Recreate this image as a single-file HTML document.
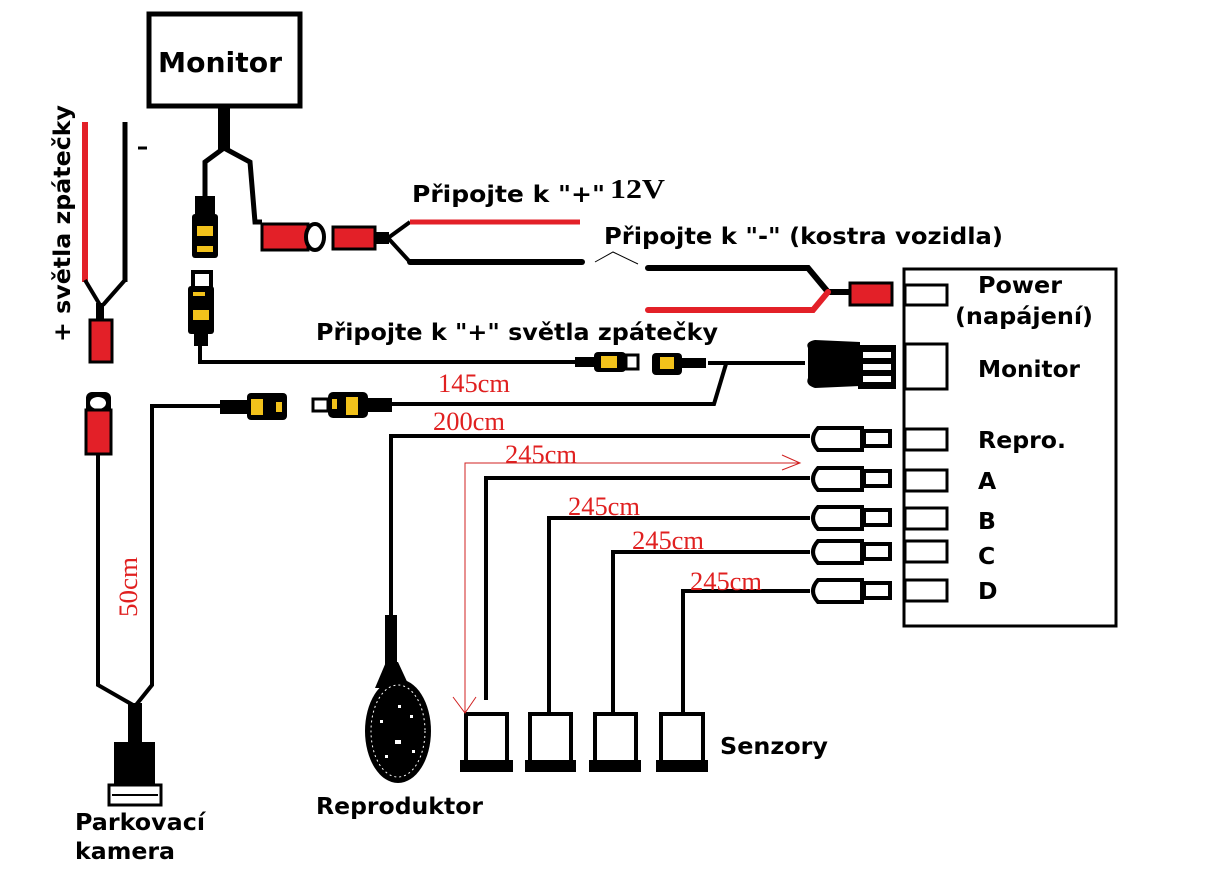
<!DOCTYPE html>
<html><head><meta charset="utf-8"><style>
html,body{margin:0;padding:0;background:#fff;width:1220px;height:884px;overflow:hidden}
svg{display:block}
.b{font-family:"DejaVu Sans","Liberation Sans",sans-serif;font-weight:bold;fill:#000}
.r{font-family:"Liberation Serif",serif;fill:#e02020}
</style></head><body>
<svg width="1220" height="884" viewBox="0 0 1220 884" xmlns="http://www.w3.org/2000/svg">
<rect x="149" y="14" width="151" height="92" fill="none" stroke="#000" stroke-width="5"/>
<text x="158" y="72" class="b" font-size="28" textLength="124" lengthAdjust="spacingAndGlyphs">Monitor</text>
<rect x="218" y="108" width="12" height="42" fill="#000"/>
<polyline points="224,148 205,162 205,198" fill="none" stroke="#000" stroke-width="5"/>
<polyline points="224,148 250,162 255,222 262,222" fill="none" stroke="#000" stroke-width="5"/>
<rect x="262" y="224" width="46" height="26" fill="#e32028" stroke="#000" stroke-width="3"/>
<ellipse cx="315" cy="237" rx="9" ry="13" fill="#fff" stroke="#000" stroke-width="4"/>
<rect x="333" y="227" width="42" height="22" fill="#e32028" stroke="#000" stroke-width="3"/>
<rect x="375" y="232" width="14" height="12" fill="#000"/>
<polyline points="388,238 410,222" stroke="#000" stroke-width="4" fill="none"/>
<polyline points="388,238 410,262" stroke="#000" stroke-width="4" fill="none"/>
<line x1="410" y1="222" x2="580" y2="222" stroke="#e32028" stroke-width="5"/>
<line x1="410" y1="262" x2="582" y2="262" stroke="#000" stroke-width="6" stroke-linecap="round"/>
<text x="412" y="202" class="b" font-size="23" textLength="193" lengthAdjust="spacingAndGlyphs">Připojte k "+"</text>
<text x="610" y="198" font-family="Liberation Serif,serif" font-weight="bold" font-size="27" textLength="55" lengthAdjust="spacingAndGlyphs">12V</text>
<text x="604" y="244" class="b" font-size="23" textLength="399" lengthAdjust="spacingAndGlyphs">Připojte k "-" (kostra vozidla)</text>
<polyline points="595,262 613,252 638,264" fill="none" stroke="#000" stroke-width="1"/>
<polyline points="648,268 808,268 828,292 850,292" fill="none" stroke="#000" stroke-width="6" stroke-linecap="round"/>
<polyline points="648,310 813,310 828,292" fill="none" stroke="#e32028" stroke-width="6" stroke-linecap="round"/>
<rect x="850" y="283" width="42" height="22" fill="#e32028" stroke="#000" stroke-width="3"/>
<rect x="195" y="196" width="20" height="20" fill="#000"/>
<rect x="192" y="214" width="26" height="44" rx="3" fill="#000"/>
<rect x="197" y="226" width="16" height="10" fill="#f2c21b"/>
<rect x="197" y="246" width="16" height="6" fill="#f2c21b"/>
<rect x="193" y="272" width="18" height="16" fill="#fff" stroke="#000" stroke-width="4"/>
<rect x="188" y="286" width="26" height="48" rx="3" fill="#000"/>
<rect x="193" y="310" width="16" height="10" fill="#f2c21b"/>
<rect x="193" y="292" width="12" height="4" fill="#f2c21b"/>
<rect x="194" y="332" width="14" height="14" fill="#000"/>
<polyline points="200,346 200,362 575,362" fill="none" stroke="#000" stroke-width="4"/>
<text x="316" y="340" class="b" font-size="23.5" textLength="402" lengthAdjust="spacingAndGlyphs">Připojte k "+" světla zpátečky</text>
<rect x="575" y="357" width="20" height="10" fill="#000"/>
<rect x="594" y="352" width="32" height="20" rx="4" fill="#000"/>
<rect x="601" y="356" width="16" height="12" fill="#f2c21b"/>
<rect x="626" y="355" width="12" height="14" fill="#fff" stroke="#000" stroke-width="3"/>
<rect x="652" y="353" width="30" height="22" rx="4" fill="#000"/>
<rect x="660" y="357" width="14" height="12" fill="#f2c21b"/>
<rect x="682" y="358" width="24" height="10" fill="#000"/>
<polyline points="708,363 725,363 805,363" fill="none" stroke="#000" stroke-width="4"/>
<polyline points="726,364 714,404 392,404" fill="none" stroke="#000" stroke-width="4"/>
<path d="M808,348 Q805,342 815,340 L860,342 L860,386 L815,388 Q805,385 808,378 Z" fill="#000"/>
<rect x="858" y="345" width="38" height="44" fill="#000"/>
<rect x="863" y="352" width="28" height="6" fill="#fff"/>
<rect x="863" y="364" width="28" height="6" fill="#fff"/>
<rect x="863" y="376" width="28" height="6" fill="#fff"/>
<rect x="352" y="398" width="40" height="14" fill="#000"/>
<rect x="328" y="392" width="40" height="26" rx="5" fill="#000"/>
<rect x="332" y="399" width="5" height="10" fill="#f2c21b"/>
<rect x="346" y="397" width="12" height="18" fill="#f2c21b"/>
<rect x="313" y="399" width="15" height="12" fill="#fff" stroke="#000" stroke-width="3"/>
<rect x="220" y="400" width="30" height="14" fill="#000"/>
<rect x="247" y="393" width="40" height="27" rx="4" fill="#000"/>
<rect x="251" y="399" width="12" height="16" fill="#f2c21b"/>
<rect x="276" y="402" width="6" height="10" fill="#f2c21b"/>
<polyline points="222,406 152,406 152,685 136,705" fill="none" stroke="#000" stroke-width="4"/>
<line x1="85" y1="122" x2="85" y2="282" stroke="#e32028" stroke-width="6"/>
<line x1="125" y1="122" x2="125" y2="282" stroke="#000" stroke-width="5"/>
<polyline points="85,280 100,305" stroke="#000" stroke-width="4" fill="none"/>
<polyline points="125,280 103,305" stroke="#000" stroke-width="4" fill="none"/>
<rect x="96" y="303" width="8" height="18" fill="#000"/>
<rect x="90" y="320" width="22" height="42" fill="#e32028" stroke="#000" stroke-width="3"/>
<line x1="138" y1="148" x2="147" y2="148" stroke="#000" stroke-width="3"/>
<text transform="translate(70,342) rotate(-90)" class="b" font-size="23.5" textLength="237" lengthAdjust="spacingAndGlyphs">+ světla zpátečky</text>
<rect x="86" y="392" width="25" height="30" rx="6" fill="#000"/>
<ellipse cx="98" cy="403" rx="8" ry="6" fill="#fff"/>
<rect x="86" y="410" width="25" height="44" fill="#e32028" stroke="#000" stroke-width="3"/>
<polyline points="98,455 98,685 133,705" fill="none" stroke="#000" stroke-width="4"/>
<text transform="translate(137,617) rotate(-90)" class="r" font-size="26" textLength="60" lengthAdjust="spacingAndGlyphs">50cm</text>
<rect x="128" y="703" width="14" height="40" fill="#000"/>
<rect x="114" y="742" width="41" height="45" fill="#000"/>
<rect x="109" y="785" width="52" height="20" fill="#fff" stroke="#000" stroke-width="3"/>
<line x1="112" y1="795" x2="158" y2="795" stroke="#000" stroke-width="2"/>
<text x="75" y="830" class="b" font-size="23.5" textLength="130" lengthAdjust="spacingAndGlyphs">Parkovací</text>
<text x="75" y="859" class="b" font-size="23.5" textLength="100" lengthAdjust="spacingAndGlyphs">kamera</text>
<rect x="904" y="269" width="212" height="357" fill="none" stroke="#000" stroke-width="3"/>
<g fill="#fff" stroke="#000" stroke-width="3">
<rect x="905" y="285" width="42" height="20"/>
<rect x="905" y="344" width="42" height="45"/>
<rect x="905" y="429" width="42" height="21"/>
<rect x="905" y="470" width="42" height="21"/>
<rect x="905" y="508" width="42" height="21"/>
<rect x="905" y="541" width="42" height="21"/>
<rect x="905" y="580" width="42" height="21"/>
</g>
<g class="b" font-size="23.5">
<text x="978" y="293" textLength="84" lengthAdjust="spacingAndGlyphs">Power</text>
<text x="955" y="324" textLength="138" lengthAdjust="spacingAndGlyphs">(napájení)</text>
<text x="978" y="377" textLength="102" lengthAdjust="spacingAndGlyphs">Monitor</text>
<text x="978" y="448" textLength="88" lengthAdjust="spacingAndGlyphs">Repro.</text>
<text x="978" y="489">A</text>
<text x="978" y="529">B</text>
<text x="978" y="564">C</text>
<text x="978" y="599">D</text>
</g>
<g fill="#fff" stroke="#000" stroke-width="4">
<path d="M818,428 H862 V450 H818 Q808,439 818,428 Z"/>
<path d="M818,468 H862 V490 H818 Q808,479 818,468 Z"/>
<path d="M818,507 H862 V529 H818 Q808,518 818,507 Z"/>
<path d="M818,541 H862 V563 H818 Q808,552 818,541 Z"/>
<path d="M818,580 H862 V602 H818 Q808,591 818,580 Z"/>
<rect x="864" y="431" width="26" height="15"/>
<rect x="864" y="471" width="26" height="15"/>
<rect x="864" y="510" width="26" height="15"/>
<rect x="864" y="544" width="26" height="15"/>
<rect x="864" y="583" width="26" height="15"/>
</g>
<g fill="none" stroke="#000" stroke-width="4">
<polyline points="810,436 391,436 391,620"/>
<polyline points="810,478 486,478 486,700"/>
<polyline points="810,518 549,518 549,713"/>
<polyline points="810,552 613,552 613,713"/>
<polyline points="810,591 683,591 683,713"/>
</g>
<rect x="385" y="615" width="12" height="50" fill="#000"/>
<path d="M386,662 L375,688 L410,688 L398,662 Z" fill="#000"/>
<ellipse cx="398" cy="731" rx="33" ry="52" fill="#000"/>
<ellipse cx="398" cy="731" rx="27" ry="46" fill="none" stroke="#fff" stroke-width="1" stroke-dasharray="2,3"/>
<g fill="#fff"><rect x="395" y="740" width="6" height="4"/><rect x="380" y="720" width="3" height="3"/><rect x="410" y="715" width="3" height="3"/><rect x="385" y="755" width="3" height="3"/><rect x="412" y="750" width="3" height="3"/><rect x="398" y="705" width="3" height="3"/></g>
<text x="316" y="814" class="b" font-size="23.5" textLength="167" lengthAdjust="spacingAndGlyphs">Reproduktor</text>
<g fill="#fff" stroke="#000" stroke-width="4">
<rect x="466" y="714" width="41" height="48"/>
<rect x="530" y="714" width="41" height="48"/>
<rect x="595" y="714" width="41" height="48"/>
<rect x="661" y="714" width="42" height="48"/>
</g>
<g fill="#000">
<rect x="460" y="760" width="53" height="12"/>
<rect x="525" y="760" width="51" height="12"/>
<rect x="589" y="760" width="52" height="12"/>
<rect x="656" y="760" width="52" height="12"/>
</g>
<text x="720" y="754" class="b" font-size="23.5" textLength="108" lengthAdjust="spacingAndGlyphs">Senzory</text>
<g class="r" font-size="26">
<text x="438" y="392" textLength="72" lengthAdjust="spacingAndGlyphs">145cm</text>
<text x="433" y="430" textLength="72" lengthAdjust="spacingAndGlyphs">200cm</text>
<text x="505" y="463" textLength="72" lengthAdjust="spacingAndGlyphs">245cm</text>
<text x="568" y="515" textLength="72" lengthAdjust="spacingAndGlyphs">245cm</text>
<text x="632" y="549" textLength="72" lengthAdjust="spacingAndGlyphs">245cm</text>
<text x="690" y="590" textLength="72" lengthAdjust="spacingAndGlyphs">245cm</text>
</g>
<g fill="none" stroke="#d02020" stroke-width="1">
<polyline points="465,713 465,463 800,463"/>
<polyline points="782,455 800,463 782,470"/>
<polyline points="453,697 465,713 476,697"/>
</g>
</svg>
</body></html>
